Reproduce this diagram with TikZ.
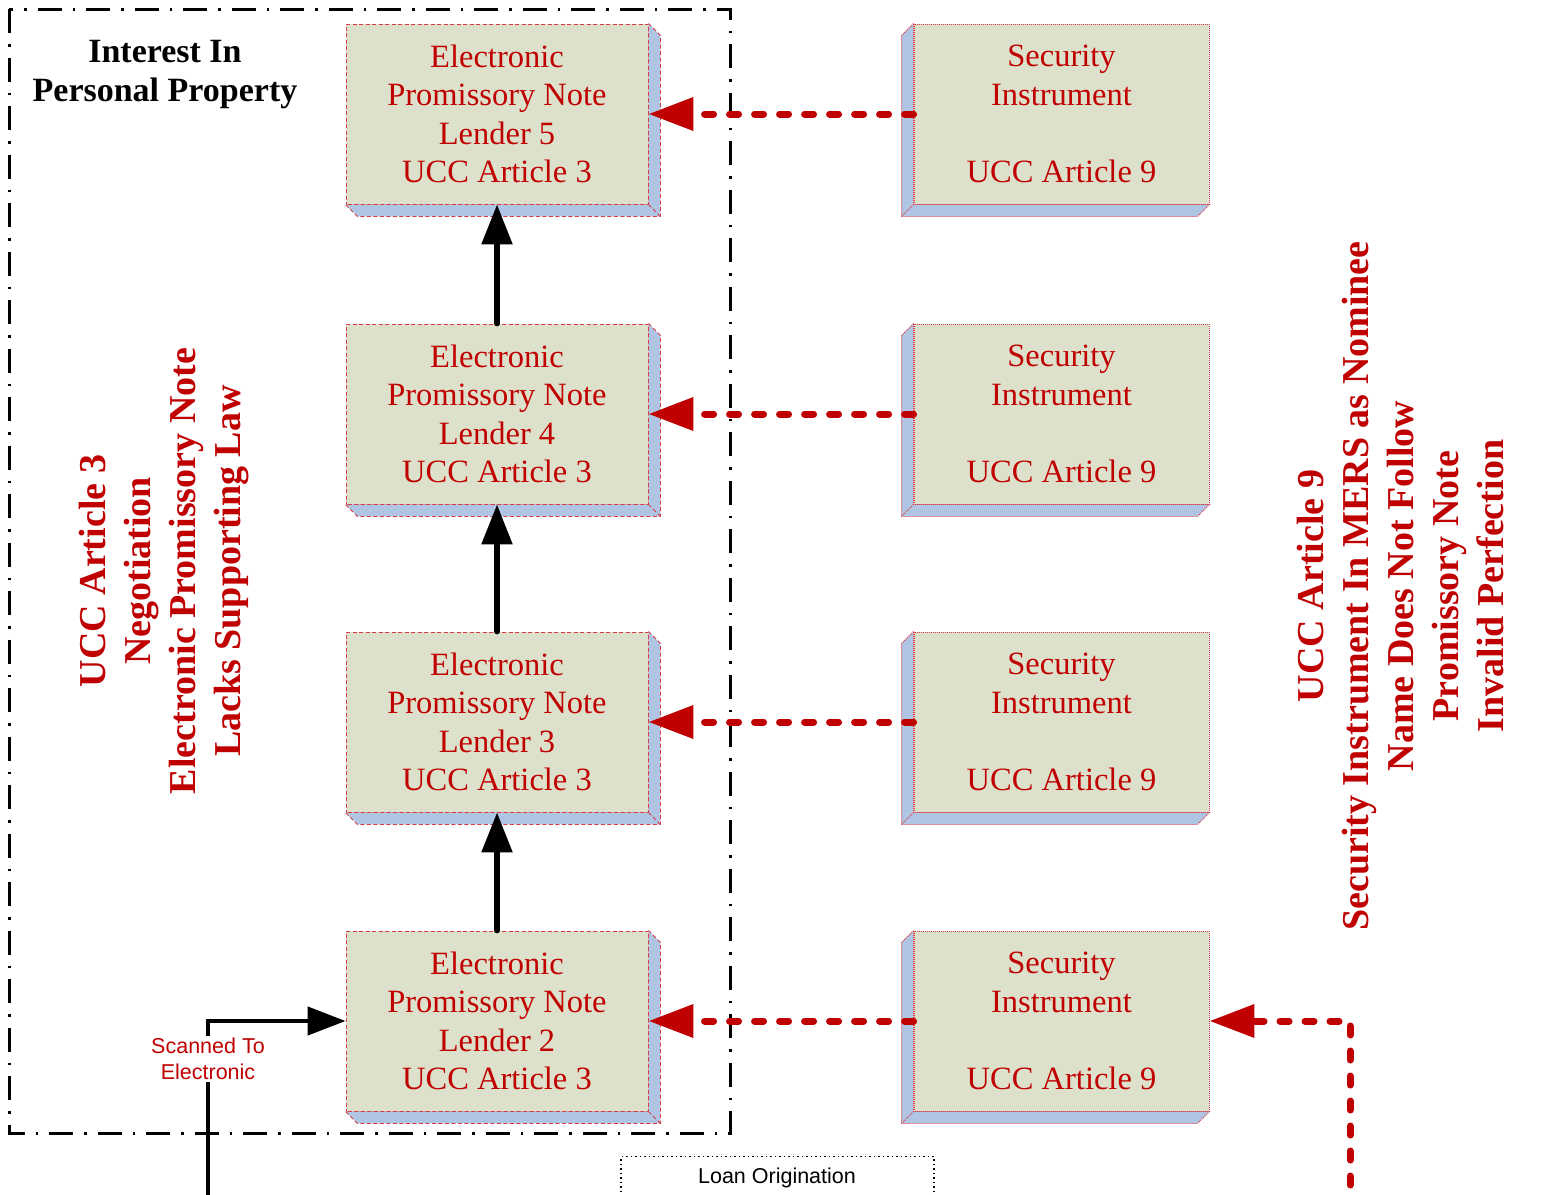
\documentclass[tikz,border=0pt]{standalone}
\usepackage{fontspec}
\setmainfont{Liberation Serif}
\setsansfont{Liberation Sans}
\usetikzlibrary{arrows.meta}
\definecolor{txtred}{RGB}{192,0,0}
\definecolor{facefill}{RGB}{221,225,203}
\definecolor{sidefill}{RGB}{176,196,228}
\definecolor{edgered}{RGB}{215,60,70}
\begin{document}
\begin{tikzpicture}[x=1pt,y=-1pt,
  face/.style={minimum height=180pt, inner sep=0pt, fill=facefill, text=txtred,
    font=\fontsize{32.5}{38.5}\selectfont, align=center},
  lface/.style={face, minimum width=302pt, draw=edgered, line width=0.9pt, dash pattern=on 4pt off 2.5pt},
  rface/.style={face, minimum width=295pt, draw=edgered, line width=0.9pt, dash pattern=on 1pt off 1pt},
  lshadow/.style={fill=sidefill, draw=edgered, line width=0.9pt, dash pattern=on 4pt off 2.5pt},
  rshadow/.style={fill=sidefill, draw=edgered, line width=0.9pt, dash pattern=on 1pt off 1pt},
  blackarrow/.style={line width=5.5pt, line cap=round, -{Triangle[length=40pt,width=30pt]}},
  redarrow/.style={draw=txtred, line width=7pt, line cap=round, dash pattern=on 9pt off 16pt,
    -{Triangle[length=45pt,width=32pt]}},
  frame/.style={line width=3pt, dash pattern=on 24pt off 11pt on 2.5pt off 11pt},
  sidetext/.style={rotate=90, align=center, text=txtred, font=\fontsize{38}{45}\selectfont\bfseries},
  headtext/.style={align=center, font=\fontsize{34}{39}\selectfont\bfseries},
  scantext/.style={align=center, text=txtred, fill=white, inner sep=2pt, font=\sffamily\fontsize{21.5}{26}\selectfont},
  loanbox/.style={draw, line width=1.3pt, dash pattern=on 1.5pt off 3pt, minimum width=313pt, minimum height=60pt, anchor=north},
  loantext/.style={font=\sffamily\fontsize{21.5}{24}\selectfont}
]
\useasboundingbox (0,0) rectangle (1557,1194);
\fill[white] (0,0) rectangle (1557,1194);

% frame
\draw[frame] (9,9) rectangle (730,1133);

% left boxes
\node[lface] (L1) at (497,114) {Electronic\\Promissory Note\\Lender 5\\UCC Article 3};
\node[lface] (L2) at (497,414) {Electronic\\Promissory Note\\Lender 4\\UCC Article 3};
\node[lface] (L3) at (497,722) {Electronic\\Promissory Note\\Lender 3\\UCC Article 3};
\node[lface] (L4) at (497,1021) {Electronic\\Promissory Note\\Lender 2\\UCC Article 3};

% right boxes
\node[rface] (R1) at (1061.5,114) {Security\\Instrument\\~\\UCC Article 9};
\node[rface] (R2) at (1061.5,414) {Security\\Instrument\\~\\UCC Article 9};
\node[rface] (R3) at (1061.5,722) {Security\\Instrument\\~\\UCC Article 9};
\node[rface] (R4) at (1061.5,1021) {Security\\Instrument\\~\\UCC Article 9};

% shadows
\foreach \n in {1,2,3,4}{
  \draw[lshadow] (L\n.north east) -- ([shift={(12,12)}]L\n.north east) -- ([shift={(12,12)}]L\n.south east)
    -- ([shift={(12,12)}]L\n.south west) -- (L\n.south west) -- (L\n.south east) -- cycle;
  \draw[lshadow] (L\n.south east) -- ++(12,12);
  \draw[rshadow] (R\n.north west) -- ([shift={(-12,12)}]R\n.north west) -- ([shift={(-12,12)}]R\n.south west)
    -- ([shift={(-12,12)}]R\n.south east) -- (R\n.south east) -- (R\n.south west) -- cycle;
  \draw[rshadow] (R\n.south west) -- ++(-12,12);
}

% black arrows
\draw[blackarrow] (L2.north) -- (L1.south);
\draw[blackarrow] (L3.north) -- (L2.south);
\draw[blackarrow] (L4.north) -- (L3.south);

% red arrows
\draw[redarrow] (R1.west) -- (L1.east);
\draw[redarrow] (R2.west) -- (L2.east);
\draw[redarrow] (R3.west) -- (L3.east);
\draw[redarrow] (R4.west) -- (L4.east);

% bottom connectors
\coordinate (sb) at (208,1210);
\coordinate (rb) at (1350,1210);
\draw[line width=4.5pt, -{Triangle[length=38pt,width=28pt]}] (sb) |- (L4.west);
\node[scantext] (scan) at (208,1059) {Scanned To\\Electronic};
\draw[redarrow] (rb) |- (R4.east);

% texts
\node[headtext] (head) at (165,75) {Interest In\\Personal Property};
\node[sidetext] (lt) at (164.5,571) {UCC Article 3\\Negotiation\\Electronic Promissory Note\\Lacks Supporting Law};
\node[sidetext] (rt) at (1400,586) {UCC Article 9\\Security Instrument In MERS as Nominee\\Name Does Not Follow\\Promissory Note\\Invalid Perfection};

% loan origination
\node[loanbox] (loan) at (777.5,1156) {};
\node[loantext] (loant) at (777,1178) {Loan Origination};
\end{tikzpicture}
\end{document}
